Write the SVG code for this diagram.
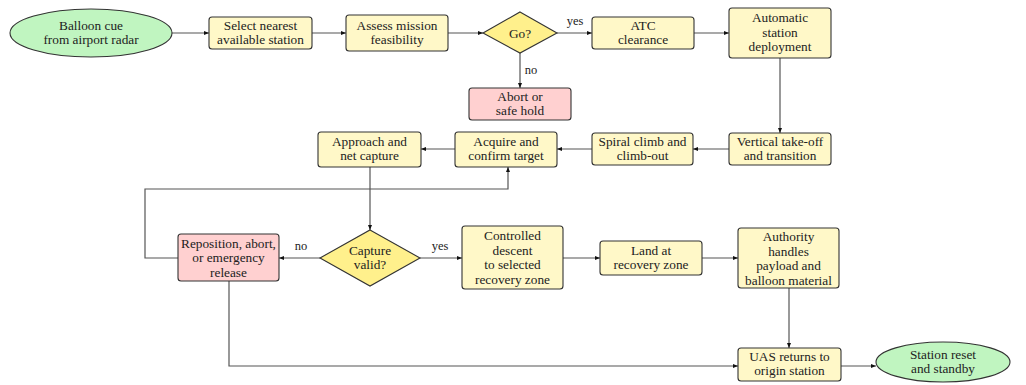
<svg xmlns="http://www.w3.org/2000/svg" width="1026" height="385" viewBox="0 0 1026 385" font-family="'Liberation Serif', 'DejaVu Serif', serif">
  <style>
    text { font-family: 'Liberation Serif', 'DejaVu Serif', serif; font-size: 13.3px; fill: #222; text-anchor: middle; }
    .box { fill: #fff8c8; stroke: #333; stroke-width: 1.1; }
    .stop { fill: #ffd0d0; stroke: #333; stroke-width: 1.1; }
    .term { fill: #c0f5c0; stroke: #333; stroke-width: 1.1; }
    .dec { fill: #fff08c; stroke: #333; stroke-width: 1.1; }
    .edge { fill: none; stroke: #555; stroke-width: 1.2; marker-end: url(#arr); }
    .lbl { font-size: 12.5px; }
  </style>
  <defs>
    <marker id="arr" viewBox="0 0 10 10" refX="10" refY="5" markerWidth="5" markerHeight="5" markerUnits="userSpaceOnUse" orient="auto">
      <path d="M0,1 L10,5 L0,9 Z" fill="#111"/>
    </marker>
  </defs>

  <!-- connectors -->
  <g id="edges">
    <path class="edge" d="M172,33 H209"/>
    <path class="edge" d="M312,33 H346"/>
    <path class="edge" d="M448,33 H483"/>
    <path class="edge" d="M557,33 H592"/>
    <text class="lbl" x="575" y="25">yes</text>
    <path class="edge" d="M520,53 V88"/>
    <text class="lbl" x="531" y="74">no</text>
    <path class="edge" d="M694,33 H729"/>
    <path class="edge" d="M780,58 V133"/>
    <path class="edge" d="M729,149 H693"/>
    <path class="edge" d="M592,149 H557"/>
    <path class="edge" d="M455,149 H421"/>
    <path class="edge" d="M370,167 V230"/>
    <path class="edge" d="M420,258 H462"/>
    <text class="lbl" x="440" y="250">yes</text>
    <path class="edge" d="M320,258 H279"/>
    <text class="lbl" x="301" y="250">no</text>
    <path class="edge" d="M178,258 H145 V189 H508 V167"/>
    <path class="edge" d="M563,258 H600"/>
    <path class="edge" d="M702,258 H738"/>
    <path class="edge" d="M789,288 V348"/>
    <path class="edge" d="M229,281 V366 H738"/>
    <path class="edge" d="M841,366 H876"/>
  </g>

  <g id="n-cue">
    <ellipse class="term" cx="91" cy="33" rx="81" ry="24"/>
    <text x="91" y="29.5">Balloon cue</text>
    <text x="91" y="44">from airport radar</text>
  </g>
  <g id="n-select">
    <rect class="box" x="209" y="17" width="103" height="32" rx="3"/>
    <text x="260.5" y="29.5">Select nearest</text>
    <text x="260.5" y="44">available station</text>
  </g>
  <g id="n-assess">
    <rect class="box" x="346" y="15" width="102" height="36" rx="3"/>
    <text x="397" y="29.5">Assess mission</text>
    <text x="397" y="44">feasibility</text>
  </g>
  <g id="n-go">
    <polygon class="dec" points="520,12 557,33 520,53 483,33"/>
    <text x="520" y="37.5">Go?</text>
  </g>
  <g id="n-atc">
    <rect class="box" x="592" y="17" width="102" height="32" rx="3"/>
    <text x="643" y="29.5">ATC</text>
    <text x="643" y="44">clearance</text>
  </g>
  <g id="n-abort">
    <rect class="stop" x="469" y="88" width="102" height="32" rx="3"/>
    <text x="520" y="100.5">Abort or</text>
    <text x="520" y="115">safe hold</text>
  </g>
  <g id="n-deploy">
    <rect class="box" x="729" y="8" width="102" height="50" rx="3"/>
    <text x="780" y="22">Automatic</text>
    <text x="780" y="36.5">station</text>
    <text x="780" y="51">deployment</text>
  </g>
  <g id="n-vtol">
    <rect class="box" x="729" y="133" width="102" height="32" rx="3"/>
    <text x="780" y="145.5">Vertical take-off</text>
    <text x="780" y="160">and transition</text>
  </g>
  <g id="n-spiral">
    <rect class="box" x="592" y="133" width="101" height="32" rx="3"/>
    <text x="642.5" y="145.5">Spiral climb and</text>
    <text x="642.5" y="160">climb-out</text>
  </g>
  <g id="n-acquire">
    <rect class="box" x="455" y="132" width="102" height="35" rx="3"/>
    <text x="506" y="145.5">Acquire and</text>
    <text x="506" y="160">confirm target</text>
  </g>
  <g id="n-approach">
    <rect class="box" x="318" y="132" width="103" height="35" rx="3"/>
    <text x="369.5" y="145.5">Approach and</text>
    <text x="369.5" y="160">net capture</text>
  </g>
  <g id="n-valid">
    <polygon class="dec" points="370,230 420,258 370,286 320,258"/>
    <text x="370" y="254.5">Capture</text>
    <text x="370" y="269">valid?</text>
  </g>
  <g id="n-reposition">
    <rect class="stop" x="178" y="234" width="101" height="47" rx="3"/>
    <text x="228.5" y="247.5">Reposition, abort,</text>
    <text x="228.5" y="262">or emergency</text>
    <text x="228.5" y="276.5">release</text>
  </g>
  <g id="n-descent">
    <rect class="box" x="462" y="226" width="101" height="63" rx="3"/>
    <text x="512.5" y="240">Controlled</text>
    <text x="512.5" y="254.5">descent</text>
    <text x="512.5" y="269">to selected</text>
    <text x="512.5" y="283.5">recovery zone</text>
  </g>
  <g id="n-land">
    <rect class="box" x="600" y="241" width="102" height="34" rx="3"/>
    <text x="651" y="254.5">Land at</text>
    <text x="651" y="269">recovery zone</text>
  </g>
  <g id="n-authority">
    <rect class="box" x="738" y="228" width="101" height="60" rx="3"/>
    <text x="788.5" y="241">Authority</text>
    <text x="788.5" y="255.5">handles</text>
    <text x="788.5" y="270">payload and</text>
    <text x="788.5" y="284.5">balloon material</text>
  </g>
  <g id="n-return">
    <rect class="box" x="738" y="348" width="103" height="33" rx="3"/>
    <text x="789.5" y="360.5">UAS returns to</text>
    <text x="789.5" y="375">origin station</text>
  </g>
  <g id="n-reset">
    <ellipse class="term" cx="943" cy="362" rx="67" ry="20"/>
    <text x="943" y="358.5">Station reset</text>
    <text x="943" y="373">and standby</text>
  </g>
</svg>
